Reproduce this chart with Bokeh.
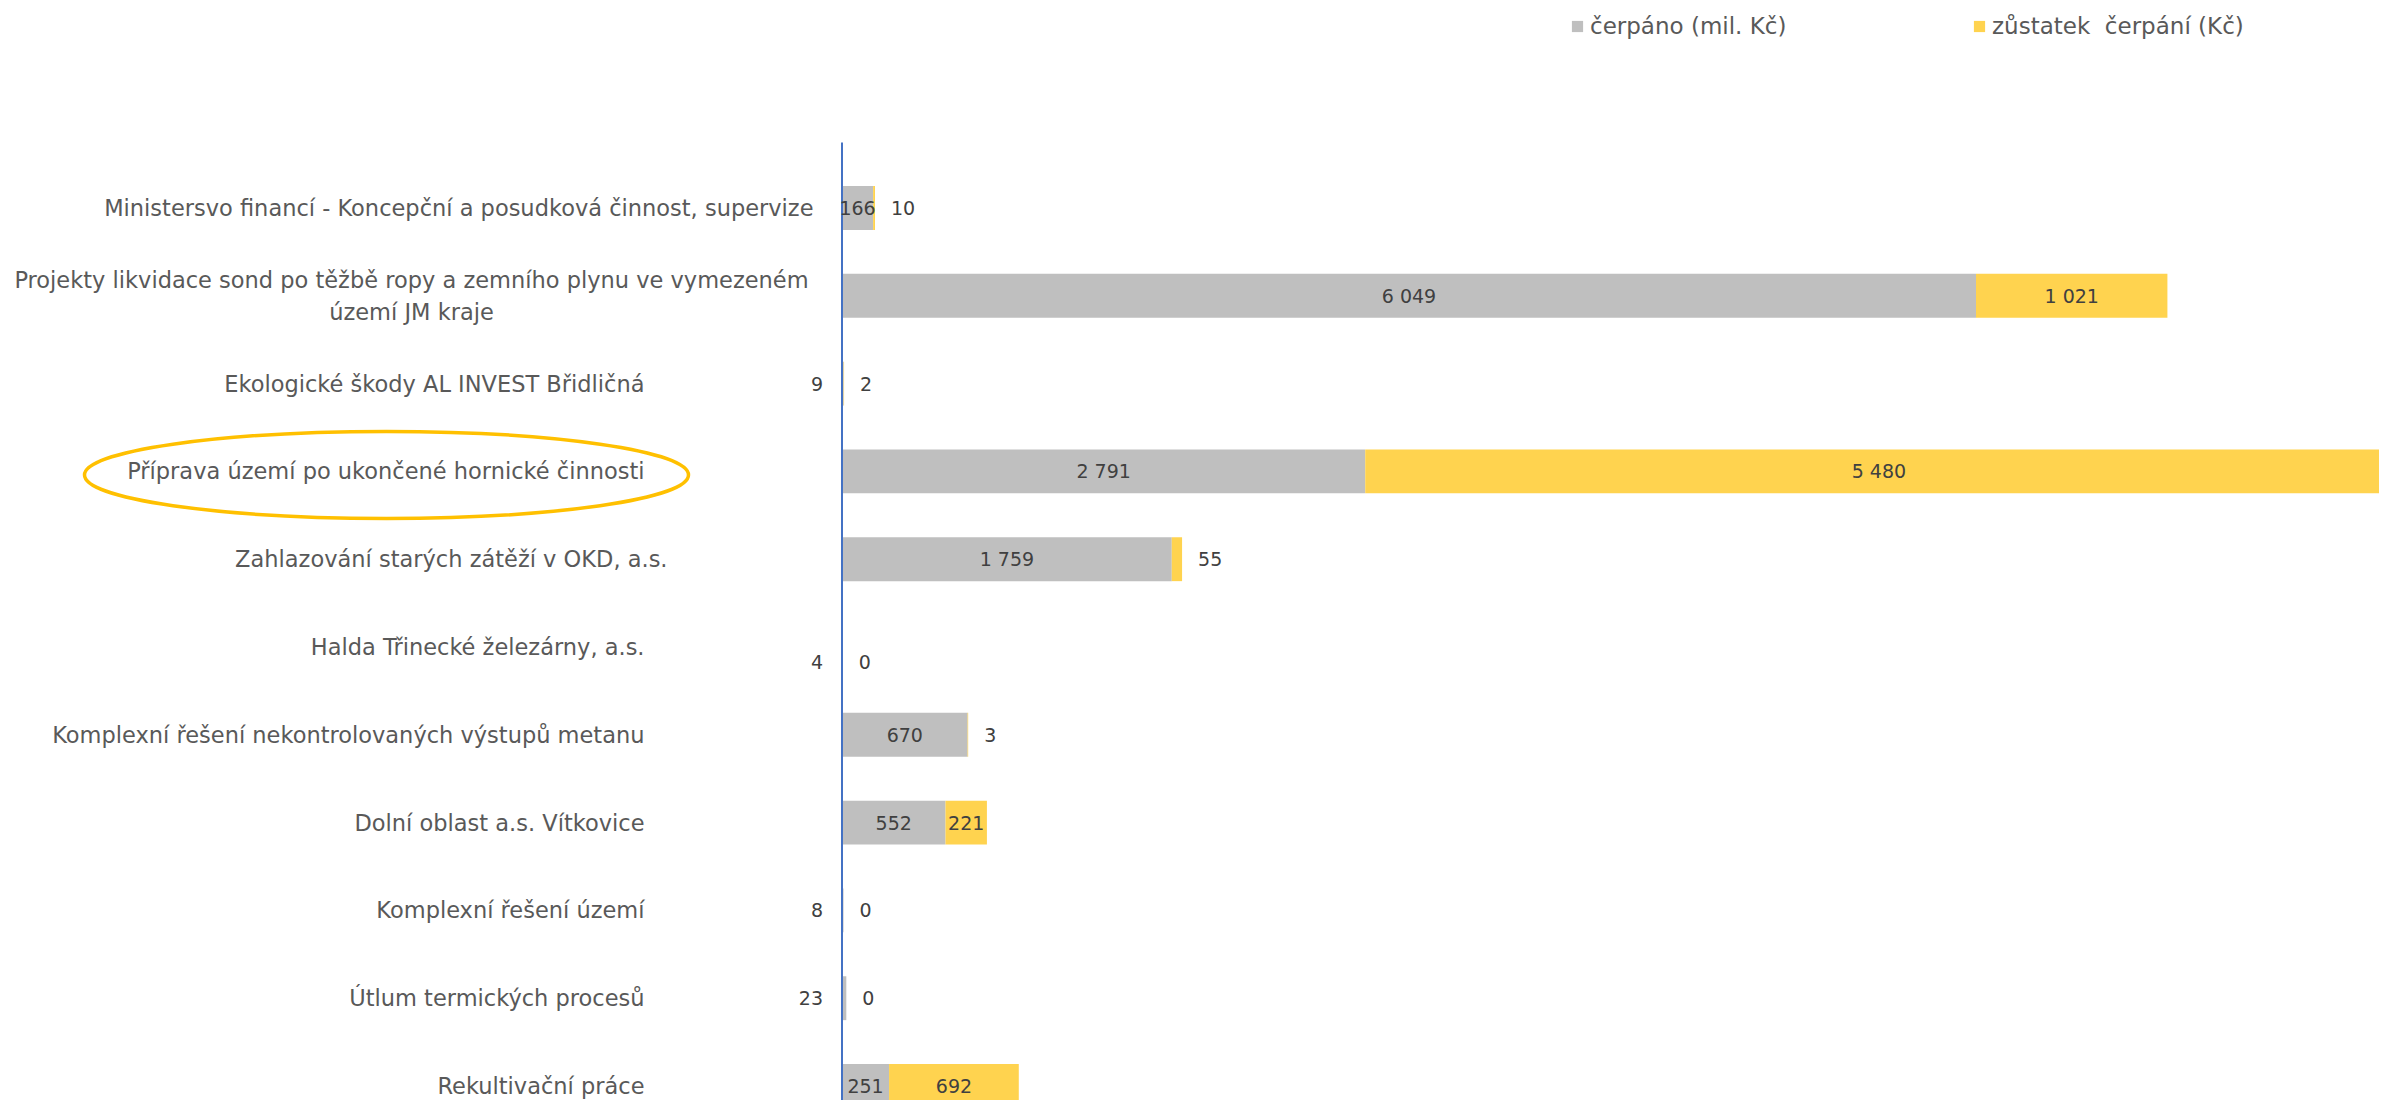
from bokeh.plotting import figure
from bokeh.models import ColumnDataSource, Range1d, Legend, LegendItem
from bokeh.core.properties import value
from bokeh.embed import file_html
from bokeh.resources import INLINE

# ---------------- data ----------------
categories = [
    "Ministersvo financí - Koncepční a posudková činnost, supervize",
    "Projekty likvidace sond po těžbě ropy a zemního plynu ve vymezeném\núzemí JM kraje",
    "Ekologické škody AL INVEST Břidličná",
    "Příprava území po ukončené hornické činnosti",
    "Zahlazování starých zátěží v OKD, a.s.",
    "Halda Třinecké železárny, a.s.",
    "Komplexní řešení nekontrolovaných výstupů metanu",
    "Dolní oblast a.s. Vítkovice",
    "Komplexní řešení území",
    "Útlum termických procesů",
    "Rekultivační práce",
]
cerpano = [166, 6049, 9, 2791, 1759, 4, 670, 552, 8, 23, 251]
zustatek = [10, 1021, 2, 5480, 55, 0, 3, 221, 0, 0, 692]
series_names = ["čerpáno (mil. Kč)", "zůstatek  čerpání (Kč)"]
highlighted = "Příprava území po ukončené hornické činnosti"

# ---------------- layout / style ----------------
W, H = 2379, 1100
AXIS_PX = 841.5          # px of the value 0
PX_PER_UNIT = 0.18747    # horizontal px per value unit
ROW0_PX = 207.5          # px of first row centre
ROW_PX = 87.8            # px between rows
# horizontal offset (px, from the axis) of each category label's anchor
LABEL_OFFSETS = [-28.5, -430.5, -197.5, -197.5, -174.5, -197.5,
                 -197.5, -197.5, -197.5, -197.5, -197.5]
# vertical shift (px) of each row's value labels
VALUE_DY = [0, 0, 0, 0, 0, 15, 0, 0, 0, 0, 0]
GRAY = "#BFBFBF"
GOLD = "#FFD34F"
FONT = "DejaVu Sans"
LABEL_FS = "22.5px"
VALUE_FS = "19px"
LEGEND_FS = "23px"
LABEL_COLOR = "#595959"
VALUE_COLOR = "#404040"
SMALL = 100              # below this a value label is placed outside its bar

n = len(categories)
rows = list(range(n))
total = [a + b for a, b in zip(cerpano, zustatek)]

p = figure(
    width=W, height=H,
    x_range=Range1d(-AXIS_PX / PX_PER_UNIT, (W - AXIS_PX) / PX_PER_UNIT),
    y_range=Range1d(start=(H - ROW0_PX) / ROW_PX, end=-ROW0_PX / ROW_PX),
    x_axis_type=None, y_axis_type=None,
    output_backend="svg", toolbar_location=None,
    min_border=0, outline_line_color=None,
)
p.grid.visible = False

src = ColumnDataSource(dict(y=rows, cerpano=cerpano, zustatek=zustatek, total=total))
r_gray = p.hbar(y="y", left=0, right="cerpano", height=0.5, fill_color=GRAY,
                line_color=None, source=src)
r_gold = p.hbar(y="y", left="cerpano", right="total", height=0.5, fill_color=GOLD,
                line_color=None, source=src)

# vertical category axis line
p.segment(x0=[0], y0=[(142 - ROW0_PX) / ROW_PX], x1=[0], y1=[(H - ROW0_PX) / ROW_PX],
          line_color="#4472C4", line_width=2)

# category labels (single-line right aligned, wrapped ones centred)
for multi in (False, True):
    idx = [i for i, c in enumerate(categories) if ("\n" in c) == multi]
    lab_src = ColumnDataSource(dict(
        x=[0] * len(idx), y=idx, text=[categories[i] for i in idx],
        off=[LABEL_OFFSETS[i] for i in idx]))
    p.text(x="x", y="y", text="text", x_offset="off", source=lab_src,
           text_align="center" if multi else "right", text_baseline="middle",
           text_line_height=1.25,
           text_font=value(FONT), text_font_size=LABEL_FS, text_color=LABEL_COLOR)

def fmt(v):
    return f"{v:,}".replace(",", " ")

vtxt = dict(text_font=value(FONT), text_font_size=VALUE_FS, text_baseline="middle",
            text_color=VALUE_COLOR)

# value labels
for vals, starts, ends, is_gray in ((cerpano, [0] * n, cerpano, True),
                                    (zustatek, cerpano, total, False)):
    inside = [i for i in rows if vals[i] >= SMALL]
    outside = [i for i in rows if vals[i] < SMALL]
    s_in = ColumnDataSource(dict(
        x=[(starts[i] + ends[i]) / 2 for i in inside], y=inside,
        text=[fmt(vals[i]) for i in inside], dy=[VALUE_DY[i] for i in inside]))
    p.text(x="x", y="y", text="text", y_offset="dy", source=s_in,
           text_align="center", **vtxt)
    s_out = ColumnDataSource(dict(
        x=[0 if is_gray else ends[i] for i in outside], y=outside,
        text=[fmt(vals[i]) for i in outside], dy=[VALUE_DY[i] for i in outside]))
    p.text(x="x", y="y", text="text", y_offset="dy", source=s_out,
           x_offset=-19 if is_gray else 16,
           text_align="right" if is_gray else "left", **vtxt)

# highlight ellipse around the chosen category label
hi = categories.index(highlighted)
p.ellipse(x=[(386 - AXIS_PX) / PX_PER_UNIT], y=[hi + 0.04], width=604, height=87,
          width_units="screen", height_units="screen",
          fill_color=None, line_color="#FFC000", line_width=3.5)

# legends (one item each, placed like the original)
for name, rend, x in ((series_names[0], r_gray, 1570), (series_names[1], r_gold, 1972)):
    lg = Legend(items=[LegendItem(label=name, renderers=[rend])],
                location=(x, 1061), orientation="horizontal",
                glyph_width=14, glyph_height=14, label_standoff=6,
                label_text_font=FONT, label_text_font_size=LEGEND_FS,
                label_text_color=LABEL_COLOR, padding=0, margin=0,
                border_line_color=None, background_fill_alpha=0)
    p.add_layout(lg)

open("out.html", "w").write(file_html(p, INLINE))
